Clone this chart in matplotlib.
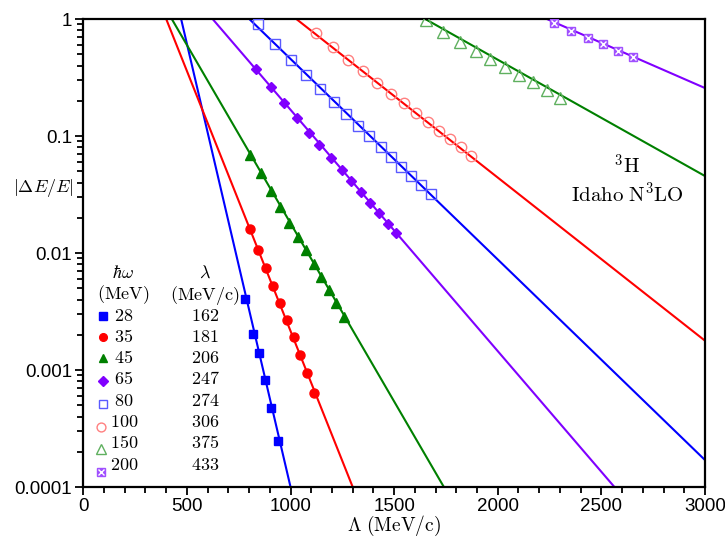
import matplotlib
matplotlib.use("Agg")
import matplotlib.pyplot as plt
from matplotlib.ticker import FixedLocator, FixedFormatter, LogLocator, NullFormatter, MultipleLocator

plt.rcParams['font.family'] = ['Liberation Sans', 'DejaVu Sans']
plt.rcParams['mathtext.fontset'] = 'cm'

# legend table
hw_labels = ['28', '35', '45', '65', '80', '100', '150', '200']
lam_labels = ['162', '181', '206', '247', '274', '306', '375', '433']

# fitted lines (end points)
fit_x = {
    '28': [472, 1000], '35': [400, 1300], '45': [427, 1740], '65': [624, 2563],
    '80': [801, 3000], '100': [1028, 3000], '150': [1650, 3000], '200': [2237, 3000],
}
fit_y = {
    '28': [1, 1e-4], '35': [1, 1e-4], '45': [1, 1e-4], '65': [1, 1e-4],
    '80': [1, 1.70e-4], '100': [1, 1.78e-3], '150': [1, 0.0455], '200': [1, 0.257],
}

# computed points
lam_28 = [782, 817, 849, 878, 908, 938]
dE_28 = [4.07e-3, 2.03e-3, 1.40e-3, 8.26e-4, 4.73e-4, 2.49e-4]
lam_35 = [802, 842, 880, 916, 951, 985, 1019, 1048, 1080, 1112]
dE_35 = [1.60e-2, 1.06e-2, 7.45e-3, 5.26e-3, 3.74e-3, 2.67e-3, 1.91e-3, 1.34e-3, 9.48e-4, 6.35e-4]
lam_45 = [806, 856, 904, 951, 994, 1035, 1075, 1112, 1148, 1184, 1220, 1257]
dE_45 = [6.89e-2, 4.80e-2, 3.39e-2, 2.46e-2, 1.82e-2, 1.36e-2, 1.06e-2, 8.05e-3,
         6.27e-3, 4.83e-3, 3.72e-3, 2.86e-3]
lam_65 = [833, 904, 969, 1033, 1088, 1139, 1194, 1246, 1294, 1339, 1385, 1428, 1470, 1510]
dE_65 = [0.372, 0.264, 0.193, 0.142, 0.107, 0.0843, 0.0653, 0.0512, 0.0415, 0.0332,
         0.0269, 0.0218, 0.0178, 0.0149]
lam_80 = [843, 927, 1003, 1077, 1143, 1209, 1269, 1325, 1381, 1436, 1484, 1535, 1583, 1631, 1676]
dE_80 = [0.902, 0.615, 0.449, 0.334, 0.254, 0.195, 0.154, 0.122, 0.100, 0.0811,
         0.0665, 0.0547, 0.0455, 0.0379, 0.0319]
lam_100 = [1122, 1204, 1278, 1348, 1418, 1483, 1547, 1604, 1662, 1716, 1768, 1821, 1873]
dE_100 = [0.764, 0.579, 0.447, 0.361, 0.286, 0.230, 0.191, 0.156, 0.131, 0.110,
          0.0938, 0.0800, 0.0675]
lam_150 = [1652, 1737, 1818, 1894, 1963, 2035, 2103, 2172, 2237, 2300]
dE_150 = [0.979, 0.769, 0.632, 0.532, 0.452, 0.391, 0.332, 0.291, 0.247, 0.212]
lam_200 = [2272, 2355, 2434, 2508, 2582, 2654]
dE_200 = [0.918, 0.794, 0.692, 0.615, 0.536, 0.476]

pts_x = {'28': lam_28, '35': lam_35, '45': lam_45, '65': lam_65,
         '80': lam_80, '100': lam_100, '150': lam_150, '200': lam_200}
pts_y = {'28': dE_28, '35': dE_35, '45': dE_45, '65': dE_65,
         '80': dE_80, '100': dE_100, '150': dE_150, '200': dE_200}

line_col = {'28': '#0000ff', '35': '#ff0000', '45': '#008000', '65': '#8000ff',
            '80': '#0000ff', '100': '#ff0000', '150': '#008000', '200': '#8000ff'}
mk = {
    '28': dict(marker='s', ms=6, mfc='#0000ff', mec='#0000ff'),
    '35': dict(marker='o', ms=6.5, mfc='#ff0000', mec='#ff0000'),
    '45': dict(marker='^', ms=7, mfc='#008000', mec='#008000'),
    '65': dict(marker='D', ms=5.5, mfc='#8000ff', mec='#8000ff'),
    '80': dict(marker='s', ms=7, mfc='none', mec='#5a5aff', mew=1.0),
    '100': dict(marker='o', ms=7.5, mfc='none', mec='#ff8080', mew=1.0),
    '150': dict(marker='^', ms=8, mfc='none', mec='#5fb05f', mew=1.0),
    '200': dict(marker='s', ms=6, mfc='#a050ff', mec='#a050ff', mew=1.0),
}

fig = plt.figure(figsize=(7.25, 5.37), dpi=100)
ax = fig.add_axes([0.1149, 0.0931, 0.8575, 0.8715])

for k in hw_labels:
    ax.plot(fit_x[k], fit_y[k], color=line_col[k], lw=1.5, zorder=2)
for k in hw_labels:
    ax.plot(pts_x[k], pts_y[k], ls='none', zorder=3, **mk[k])
ax.plot(lam_200, dE_200, ls='none', marker='x', ms=4.5, mec='white', mew=1.0, zorder=4)

ax.set_yscale('log')
ax.set_xlim(0, 3000)
ax.set_ylim(1e-4, 1)

ax.xaxis.set_major_locator(MultipleLocator(500))
ax.xaxis.set_minor_locator(MultipleLocator(100))
ax.yaxis.set_major_locator(FixedLocator([1e-4, 1e-3, 1e-2, 0.1, 1]))
ax.yaxis.set_major_formatter(FixedFormatter(['0.0001', '0.001', '0.01', '0.1', '1']))
ax.yaxis.set_minor_locator(LogLocator(base=10, subs=range(2, 10), numticks=20))
ax.yaxis.set_minor_formatter(NullFormatter())
ax.tick_params(which='both', direction='out', top=False, right=False, width=1.3,
               labelsize=13.5, colors='black')
ax.tick_params(which='major', length=6, pad=2)
ax.tick_params(which='minor', length=4)
for s in ax.spines.values():
    s.set_linewidth(1.6)

ax.set_xlabel(r'$\Lambda\ \mathrm{(MeV/c)}$', fontsize=14, labelpad=-1)
ax.text(-0.065, 0.639, r'$|\Delta E/E|$', transform=ax.transAxes, fontsize=13,
        ha='center', va='center')

ax.text(0.875, 0.687, r'$^3\mathrm{H}$', transform=ax.transAxes, fontsize=15,
        ha='center', va='center')
ax.text(0.875, 0.627, r'$\mathrm{Idaho\ N^3LO}$', transform=ax.transAxes, fontsize=15,
        ha='center', va='center')

# table-style legend
def fx(px):
    return (px - 83.3) / 621.5

def fy(py):
    return (487 - py) / 468.0

ax.text(fx(123), fy(273), r'$\hbar\omega$', transform=ax.transAxes, fontsize=13,
        ha='center', va='center')
ax.text(fx(123), fy(295), r'$\mathrm{(MeV)}$', transform=ax.transAxes, fontsize=13,
        ha='center', va='center')
ax.text(fx(205), fy(273), r'$\lambda$', transform=ax.transAxes, fontsize=13,
        ha='center', va='center')
ax.text(fx(205), fy(295), r'$\mathrm{(MeV/c)}$', transform=ax.transAxes, fontsize=13,
        ha='center', va='center')
row_y = [316, 337, 358, 379, 401, 422, 443, 465]
mk_dy = [0, 0, 0, 2, 3, 5, 6, 7]
mk_dx = [0, 0, 0, 0, 0, -2, -2, -2]
for i, k in enumerate(hw_labels):
    m = dict(mk[k])
    m['ms'] = m['ms'] * 0.85
    px, py = fx(103 + mk_dx[i]), fy(row_y[i] + mk_dy[i])
    ax.plot([px], [py], ls='none', transform=ax.transAxes, clip_on=False, **m)
    if k == '200':
        ax.plot([px], [py], ls='none', marker='x', ms=4, mec='white', mew=1.0,
                transform=ax.transAxes, clip_on=False)
    ax.text(fx(124), fy(row_y[i]), r'$\mathrm{%s}$' % k, transform=ax.transAxes,
            fontsize=13, ha='center', va='center')
    ax.text(fx(205), fy(row_y[i]), r'$\mathrm{%s}$' % lam_labels[i], transform=ax.transAxes,
            fontsize=13, ha='center', va='center')

fig.savefig('out.png', dpi=100)
